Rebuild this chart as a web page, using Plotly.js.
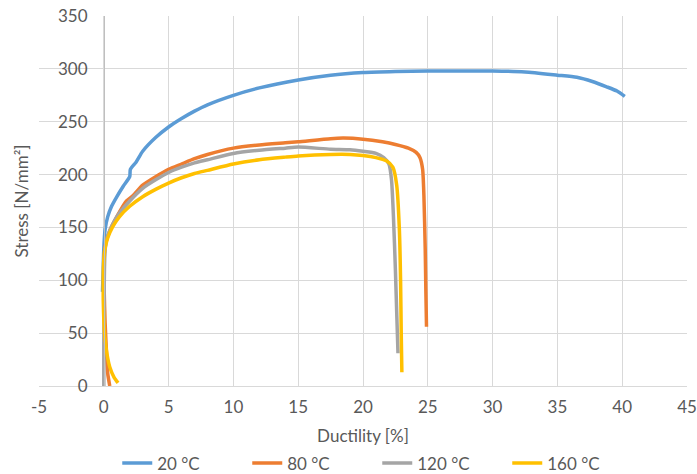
<!DOCTYPE html>
<html>
<head>
<meta charset="utf-8">
<script src="https://cdn.plot.ly/plotly-3.0.1.min.js"></script>
<style>html,body{margin:0;padding:0;background:#fff;}#chart{width:697px;height:474px;}</style>
</head>
<body>
<div id="chart"></div>
<script>
// Series names
const seriesNames = ['20 °C', '80 °C', '120 °C', '160 °C'];
const seriesColors = ['#5B9BD5', '#ED7D31', '#A5A5A5', '#FFC000'];

// Tick labels
const xTickVals = [-5, 0, 5, 10, 15, 20, 25, 30, 35, 40, 45];
const xTickText = ['-5', '0', '5', '10', '15', '20', '25', '30', '35', '40', '45'];
const yTickVals = [0, 50, 100, 150, 200, 250, 300, 350];
const yTickText = ['0', '50', '100', '150', '200', '250', '300', '350'];

// 20 °C
const ductility20 = [-0.1, -0.05, 0, 0.1, 0.3, 0.6, 1.0, 1.5, 2.0, 2.05, 2.5, 3, 4, 5, 6, 7, 8, 10, 12, 15, 17.5, 20, 22.5, 25, 27.5, 30, 32.5, 35, 36.5, 37.7, 38.8, 39.6, 40.2];
const stress20 = [89, 110, 130, 148, 160, 170, 179, 189, 198, 205, 212, 222, 235, 245, 253, 260, 266, 275, 282, 289.5, 294, 296.5, 297.5, 298, 298, 298, 297, 294, 292, 288, 283, 279, 274];

// 80 °C
const ductility80 = [0.46, 0.3, 0.2, 0.1, 0.03, 0.02, 0.05, 0.15, 0.46, 1.0, 1.75, 2.24, 3, 4, 5, 6, 7, 8, 10, 12, 14, 15, 17.5, 18.5, 20, 21.5, 22.5, 23.5, 24.1, 24.4, 24.6, 24.7, 24.8, 24.85, 24.9];
const stress80 = [0, 12, 34, 60, 90, 110, 125, 135, 147, 160, 175, 180, 190, 198, 205, 210, 215, 219, 225, 228, 230, 231, 234, 234.5, 233.5, 231, 228.5, 225, 221, 216, 205, 180, 130, 90, 56];

// 120 °C
const ductility120 = [0, 0, 0.02, 0.05, 0.1, 0.2, 0.5, 1, 2, 3, 4, 5, 6, 7, 8, 10, 12, 14, 15, 17.5, 19, 20, 21, 21.6, 22.0, 22.2, 22.35, 22.5, 22.6, 22.7];
const stress120 = [0, 40, 80, 110, 128, 138, 148, 160, 175, 187, 195, 202, 207, 211, 214, 220, 223, 225, 226, 224, 223.5, 222, 220, 216, 210, 195, 160, 110, 70, 31];

// 160 °C
const ductility160 = [1.1, 0.8, 0.46, 0.25, 0.08, -0.02, -0.05, -0.02, 0.08, 0.3, 0.7, 1.2, 2, 3, 4, 5, 6, 7, 8, 10, 12, 14, 15, 17.5, 19, 20, 21, 21.8, 22.3, 22.6, 22.8, 22.9, 22.95, 23.0];
const stress160 = [3, 8, 18, 30, 46, 70, 97, 115, 129, 140, 151, 160, 170, 179, 186, 192, 197, 201, 204, 210, 214, 216.5, 217.6, 219, 219, 218, 216, 213, 207, 190, 150, 100, 50, 13];

const xs = [ductility20, ductility80, ductility120, ductility160];
const ys = [stress20, stress80, stress120, stress160];

const traces = seriesNames.map((name, i) => ({
  type: 'scatter',
  mode: 'lines',
  name: name,
  x: xs[i],
  y: ys[i],
  line: {color: seriesColors[i], width: 3.5, shape: 'spline', smoothing: 0.6},
  hoverinfo: 'x+y+name'
}));

const FONT = 'Lato, "Open Sans", sans-serif';

const layout = {
  width: 697,
  height: 474,
  margin: {l: 39, r: 10, t: 16, b: 88},
  paper_bgcolor: '#ffffff',
  plot_bgcolor: '#ffffff',
  font: {family: FONT, size: 17, color: '#595959'},
  showlegend: true,
  xaxis: {
    range: [-5, 45],
    tickmode: 'array',
    tickvals: xTickVals,
    ticktext: xTickText,
    showgrid: true,
    gridcolor: '#D9D9D9',
    gridwidth: 1,
    zeroline: false,
    showline: true,
    linecolor: '#D9D9D9',
    ticks: 'outside',
    ticklen: 6,
    tickcolor: 'rgba(0,0,0,0)',
    automargin: false,
    tickfont: {size: 17, color: '#595959'},
    title: {text: 'Ductility [%]', font: {size: 17, color: '#595959'}, standoff: 14}
  },
  yaxis: {
    range: [0, 350],
    tickmode: 'array',
    tickvals: yTickVals,
    ticktext: yTickText,
    anchor: 'free',
    position: 0.1003,
    showgrid: true,
    gridcolor: '#D9D9D9',
    gridwidth: 1,
    zeroline: false,
    showline: true,
    linecolor: '#BFBFBF',
    ticks: 'outside',
    ticklen: 13,
    tickcolor: 'rgba(0,0,0,0)',
    automargin: false,
    tickfont: {size: 17, color: '#595959'},
    title: {text: 'Stress [N/mm²]', font: {size: 17, color: '#595959'}, standoff: 24}
  },
  legend: {
    orientation: 'h',
    x: 0.522,
    xanchor: 'center',
    xref: 'paper',
    yref: 'container',
    y: 0.022,
    yanchor: 'middle',
    entrywidth: 85,
    entrywidthmode: 'pixels',
    font: {size: 17, color: '#595959'},
    bgcolor: 'rgba(0,0,0,0)'
  }
};

Plotly.newPlot('chart', traces, layout, {displayModeBar: false, staticPlot: true});
</script>
</body>
</html>
